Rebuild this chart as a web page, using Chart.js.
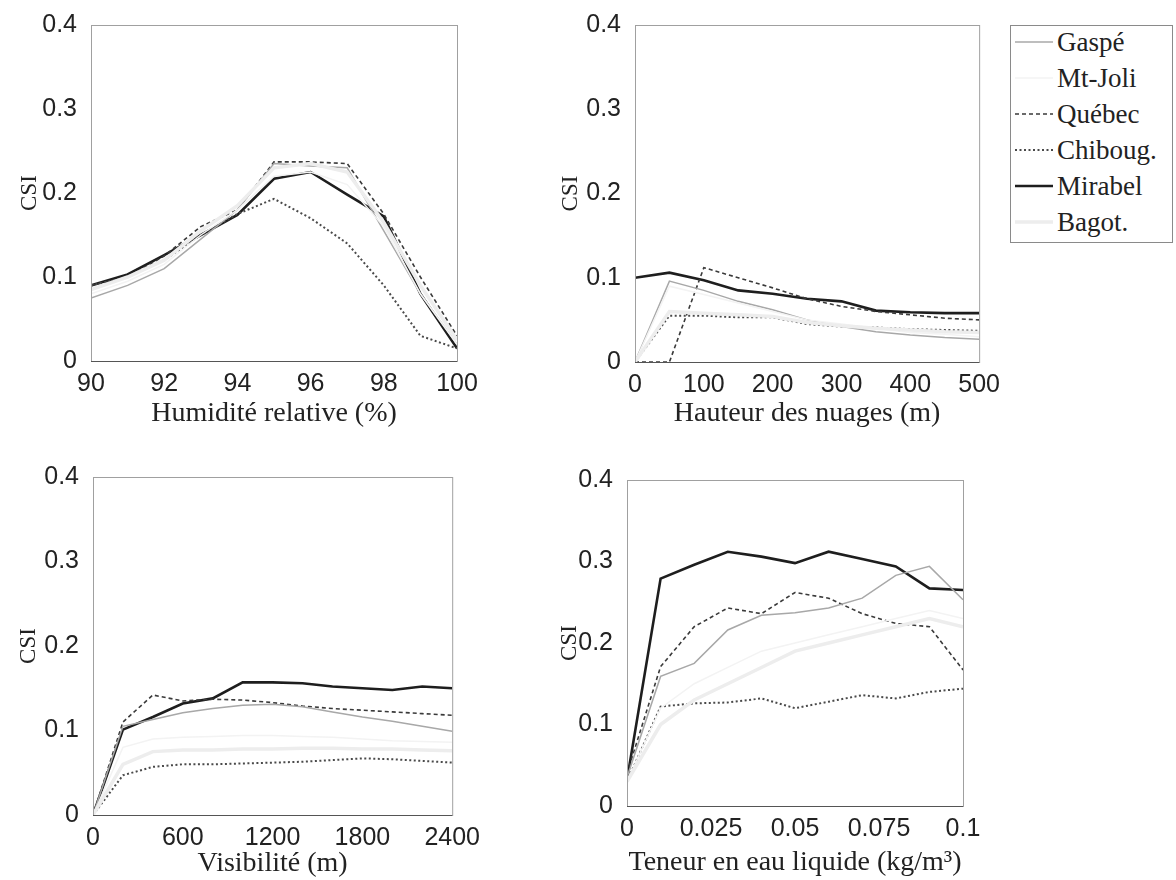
<!DOCTYPE html>
<html>
<head>
<meta charset="utf-8">
<script src="https://cdn.jsdelivr.net/npm/chart.js@4"></script>
<style>
  body { margin: 0; background: #fff; width: 1176px; height: 880px; position: relative; overflow: hidden; }
  canvas { position: absolute; }
  #legend { position: absolute; left: 1010px; top: 25px; width: 163px; height: 218px; border: 1px solid #8a8a8a; box-sizing: border-box;
            font-family: "Liberation Serif", "Times New Roman", serif; font-size: 27px; color: #222; }
  .row { position: absolute; left: 2px; height: 30px; display: flex; align-items: center; white-space: nowrap; }
  .row svg { width: 42px; height: 30px; }
  .row span { margin-left: 2px; }
</style>
</head>
<body>
<canvas id="c1" style="left:0;top:0" width="480" height="430"></canvas>
<canvas id="c2" style="left:540px;top:0" width="460" height="430"></canvas>
<canvas id="c3" style="left:0;top:435px" width="480" height="445"></canvas>
<canvas id="c4" style="left:540px;top:435px" width="460" height="445"></canvas>
<div id="legend"></div>
<script>
// stations
const stations = ['Gaspé', 'Mt-Joli', 'Québec', 'Chiboug.', 'Mirabel', 'Bagot.'];

// Humidité relative (%)
const humX = [90, 91, 92, 93, 94, 95, 96, 97, 98, 99, 100];
const humGaspe   = [0.075, 0.09, 0.11, 0.145, 0.18, 0.235, 0.232, 0.23, 0.155, 0.08, 0.02];
const humMtJoli  = [0.08, 0.095, 0.115, 0.15, 0.18, 0.22, 0.225, 0.21, 0.16, 0.08, 0.02];
const humQuebec  = [0.09, 0.1, 0.125, 0.16, 0.18, 0.237, 0.237, 0.235, 0.175, 0.1, 0.03];
const humChiboug = [0.09, 0.1, 0.12, 0.15, 0.175, 0.193, 0.17, 0.14, 0.09, 0.03, 0.015];
const humMirabel = [0.09, 0.103, 0.126, 0.15, 0.174, 0.217, 0.225, 0.198, 0.172, 0.08, 0.015];
const humBagot   = [0.085, 0.1, 0.12, 0.155, 0.185, 0.23, 0.235, 0.225, 0.165, 0.09, 0.025];

// Hauteur des nuages (m)
const cldX = [0, 50, 100, 150, 200, 250, 300, 350, 400, 450, 500];
const cldGaspe   = [0, 0.096, 0.085, 0.072, 0.062, 0.05, 0.042, 0.036, 0.032, 0.029, 0.027];
const cldMtJoli  = [0, 0.09, 0.08, 0.07, 0.06, 0.05, 0.045, 0.04, 0.035, 0.033, 0.03];
const cldQuebec  = [0, 0, 0.112, 0.1, 0.088, 0.075, 0.066, 0.06, 0.056, 0.052, 0.05];
const cldChiboug = [0, 0.055, 0.055, 0.053, 0.053, 0.045, 0.042, 0.041, 0.039, 0.038, 0.037];
const cldMirabel = [0.1, 0.106, 0.097, 0.085, 0.081, 0.075, 0.072, 0.061, 0.059, 0.058, 0.058];
const cldBagot   = [0, 0.06, 0.058, 0.056, 0.054, 0.047, 0.043, 0.04, 0.038, 0.036, 0.035];

// Visibilité (m)
const visX = [0, 200, 400, 600, 800, 1000, 1200, 1400, 1600, 1800, 2000, 2200, 2400];
const visGaspe   = [0, 0.105, 0.113, 0.121, 0.126, 0.13, 0.131, 0.128, 0.122, 0.116, 0.111, 0.105, 0.099];
const visMtJoli  = [0, 0.08, 0.09, 0.092, 0.093, 0.094, 0.094, 0.093, 0.092, 0.09, 0.088, 0.087, 0.086];
const visQuebec  = [0, 0.11, 0.142, 0.135, 0.137, 0.136, 0.133, 0.129, 0.126, 0.124, 0.122, 0.12, 0.118];
const visChiboug = [0, 0.047, 0.057, 0.06, 0.06, 0.061, 0.062, 0.063, 0.065, 0.067, 0.066, 0.064, 0.062];
const visMirabel = [0, 0.101, 0.116, 0.132, 0.138, 0.157, 0.157, 0.156, 0.152, 0.15, 0.148, 0.152, 0.15];
const visBagot   = [0, 0.06, 0.075, 0.077, 0.077, 0.078, 0.078, 0.079, 0.079, 0.078, 0.078, 0.077, 0.076];

// Teneur en eau liquide (kg/m3)
const lwcX = [0, 0.01, 0.02, 0.03, 0.04, 0.05, 0.06, 0.07, 0.08, 0.09, 0.1];
const lwcGaspe   = [0.035, 0.159, 0.175, 0.216, 0.234, 0.237, 0.243, 0.255, 0.283, 0.294, 0.253];
const lwcMtJoli  = [0.03, 0.12, 0.15, 0.17, 0.19, 0.2, 0.21, 0.22, 0.23, 0.24, 0.23];
const lwcQuebec  = [0.04, 0.171, 0.22, 0.243, 0.236, 0.262, 0.255, 0.236, 0.224, 0.22, 0.167];
const lwcChiboug = [0.03, 0.122, 0.126, 0.127, 0.132, 0.12, 0.128, 0.136, 0.132, 0.14, 0.144];
const lwcMirabel = [0.032, 0.279, 0.296, 0.312, 0.306, 0.298, 0.312, 0.303, 0.294, 0.267, 0.265];
const lwcBagot   = [0.03, 0.1, 0.13, 0.15, 0.17, 0.19, 0.2, 0.21, 0.22, 0.23, 0.22];

const yTicks = [0, 0.1, 0.2, 0.3, 0.4];

// line look per station
const looks = [
  { color: '#a8a8a8', width: 1.5, dash: [] },
  { color: '#f3f3f3', width: 1.5, dash: [] },
  { color: '#3a3a3a', width: 1.6, dash: [4, 3] },
  { color: '#4a4a4a', width: 2, dash: [2, 2.5] },
  { color: '#1e1e1e', width: 2.6, dash: [] },
  { color: '#ededed', width: 3.5, dash: [] }
];

const tickFont = { family: '"Liberation Sans", Arial, sans-serif', size: 25 };
const titleFont = { family: '"Liberation Serif", "Times New Roman", serif', size: 28 };

const frame = {
  id: 'frame',
  afterDraw(chart) {
    const a = chart.chartArea, ctx = chart.ctx;
    ctx.save();
    ctx.strokeStyle = '#a0a0a0';
    ctx.lineWidth = 1;
    ctx.strokeRect(a.left + 0.5, a.top + 0.5, a.right - a.left, a.bottom - a.top);
    ctx.strokeStyle = '#555';
    ctx.beginPath();
    ctx.moveTo(a.left, a.bottom + 0.5);
    ctx.lineTo(a.right, a.bottom + 0.5);
    ctx.stroke();
    ctx.restore();
  }
};

function makePanel(id, xs, series, xr, xTitle, box) {
  const datasets = series.map((vals, i) => ({
    label: stations[i],
    data: xs.map((x, k) => ({ x: x, y: vals[k] })),
    borderColor: looks[i].color,
    borderWidth: looks[i].width,
    borderDash: looks[i].dash,
    pointRadius: 0,
    tension: 0,
    fill: false
  }));
  // draw light ones first so dark lines stay on top
  const order = [5, 1, 0, 3, 2, 4];
  new Chart(document.getElementById(id), {
    type: 'line',
    data: { datasets: order.map(i => datasets[i]) },
    options: {
      responsive: false,
      animation: false,
      layout: { padding: { top: box.top, right: box.right, left: 0, bottom: 0 } },
      plugins: { legend: { display: false }, tooltip: { enabled: false } },
      scales: {
        x: {
          type: 'linear', min: xr.min, max: xr.max,
          afterBuildTicks: s => { s.ticks = xr.ticks.map(v => ({ value: v })); },
          afterFit: s => { s.height = box.xh; },
          grid: { display: false },
          border: { display: false },
          ticks: { font: tickFont, color: '#222', padding: 0, maxRotation: 0,
                   callback: v => String(+v.toFixed(4)) },
          title: { display: true, text: xTitle, font: titleFont, color: '#222', padding: { top: 0, bottom: box.tb } }
        },
        y: {
          type: 'linear', min: 0, max: 0.4,
          afterBuildTicks: s => { s.ticks = yTicks.map(v => ({ value: v })); },
          afterFit: s => { s.width = box.yw; },
          grid: { display: false },
          border: { display: false },
          ticks: { font: tickFont, color: '#222', padding: 6, callback: v => String(+v.toFixed(2)) },
          title: { display: true, text: 'CSI', font: { family: titleFont.family, size: 23 }, color: '#222', padding: { top: box.yp, bottom: 0 } }
        }
      }
    },
    plugins: [frame]
  });
}

makePanel('c1', humX, [humGaspe, humMtJoli, humQuebec, humChiboug, humMirabel, humBagot],
  { min: 90, max: 100, ticks: [90, 92, 94, 96, 98, 100] }, 'Humidité relative (%)',
  { top: 25, right: 23, yw: 91, xh: 69, tb: 0, yp: 16 });
makePanel('c2', cldX, [cldGaspe, cldMtJoli, cldQuebec, cldChiboug, cldMirabel, cldBagot],
  { min: 0, max: 500, ticks: [0, 100, 200, 300, 400, 500] }, 'Hauteur des nuages (m)',
  { top: 25, right: 20, yw: 95, xh: 68, tb: 0, yp: 17 });
makePanel('c3', visX, [visGaspe, visMtJoli, visQuebec, visChiboug, visMirabel, visBagot],
  { min: 0, max: 2400, ticks: [0, 600, 1200, 1800, 2400] }, 'Visibilité (m)',
  { top: 42, right: 25, yw: 93, xh: 65, tb: 0, yp: 15 });
makePanel('c4', lwcX, [lwcGaspe, lwcMtJoli, lwcQuebec, lwcChiboug, lwcMirabel, lwcBagot],
  { min: 0, max: 0.1, ticks: [0, 0.025, 0.05, 0.075, 0.1] }, 'Teneur en eau liquide (kg/m³)',
  { top: 45, right: 37, yw: 87, xh: 74, tb: 1, yp: 16 });

// legend
const legend = document.getElementById('legend');
stations.forEach((name, i) => {
  const row = document.createElement('div');
  row.className = 'row';
  row.style.top = (1 + i * 36) + 'px';
  const lk = looks[i];
  row.innerHTML = '<svg><line x1="2" y1="15" x2="40" y2="15" stroke="' + lk.color + '" stroke-width="' + lk.width +
    '" stroke-dasharray="' + (lk.dash.length ? lk.dash.join(',') : 'none') + '"/></svg><span>' + name + '</span>';
  legend.appendChild(row);
});
</script>
</body>
</html>
